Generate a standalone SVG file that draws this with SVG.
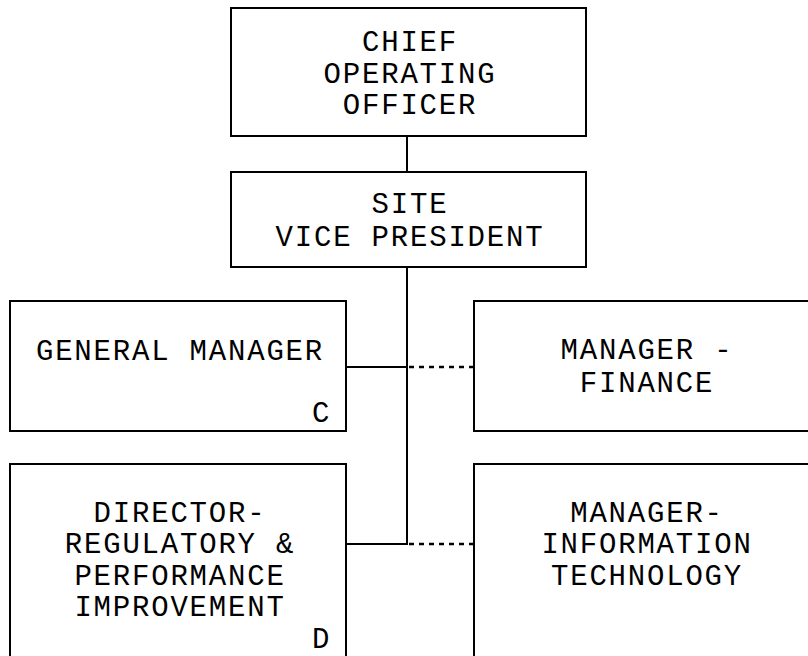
<svg xmlns="http://www.w3.org/2000/svg" width="808" height="656" viewBox="0 0 808 656">
<style>
.box{fill:#fff;stroke:#000;stroke-width:2}
.t{font-family:"Liberation Mono","Courier New",monospace;font-size:29px;letter-spacing:1.8px;fill:#000;text-anchor:middle}
.s{font-family:"Liberation Mono","Courier New",monospace;font-size:29px;fill:#000}
.ln{stroke:#000;stroke-width:2;fill:none}
.dot{stroke:#000;stroke-width:2.5;fill:none;stroke-dasharray:5 5}
</style>
<rect width="808" height="656" fill="#fff"/>
<g id="connectors">
<line class="ln" x1="407" y1="136" x2="407" y2="172"/>
<line class="ln" x1="407" y1="267" x2="407" y2="545"/>
<line class="ln" x1="346" y1="367" x2="407" y2="367"/>
<line class="dot" x1="409" y1="367" x2="474" y2="367"/>
<line class="ln" x1="346" y1="544" x2="407" y2="544"/>
<line class="dot" x1="409" y1="544" x2="474" y2="544"/>
</g>
<g id="coo">
<rect class="box" x="231" y="8" width="355" height="128"/>
<text class="t" x="410" y="51">CHIEF</text>
<text class="t" x="410" y="83">OPERATING</text>
<text class="t" x="410" y="114">OFFICER</text>
</g>
<g id="svp">
<rect class="box" x="231" y="172" width="355" height="95"/>
<text class="t" x="410" y="213">SITE</text>
<text class="t" x="410" y="246">VICE PRESIDENT</text>
</g>
<g id="gm">
<rect class="box" x="10" y="301" width="336" height="130"/>
<text class="t" x="180" y="360">GENERAL MANAGER</text>
<text class="s" x="312" y="422">C</text>
</g>
<g id="finance">
<rect class="box" x="474" y="301" width="342" height="130"/>
<text class="t" x="647" y="359">MANAGER -</text>
<text class="t" x="647" y="392">FINANCE</text>
</g>
<g id="director">
<rect class="box" x="10" y="464" width="336" height="200"/>
<text class="t" x="180" y="522">DIRECTOR-</text>
<text class="t" x="180" y="553">REGULATORY &amp;</text>
<text class="t" x="180" y="585">PERFORMANCE</text>
<text class="t" x="180" y="616">IMPROVEMENT</text>
<text class="s" x="312" y="648">D</text>
</g>
<g id="it">
<rect class="box" x="474" y="464" width="342" height="200"/>
<text class="t" x="647" y="522">MANAGER-</text>
<text class="t" x="647" y="553">INFORMATION</text>
<text class="t" x="647" y="585">TECHNOLOGY</text>
</g>
</svg>
